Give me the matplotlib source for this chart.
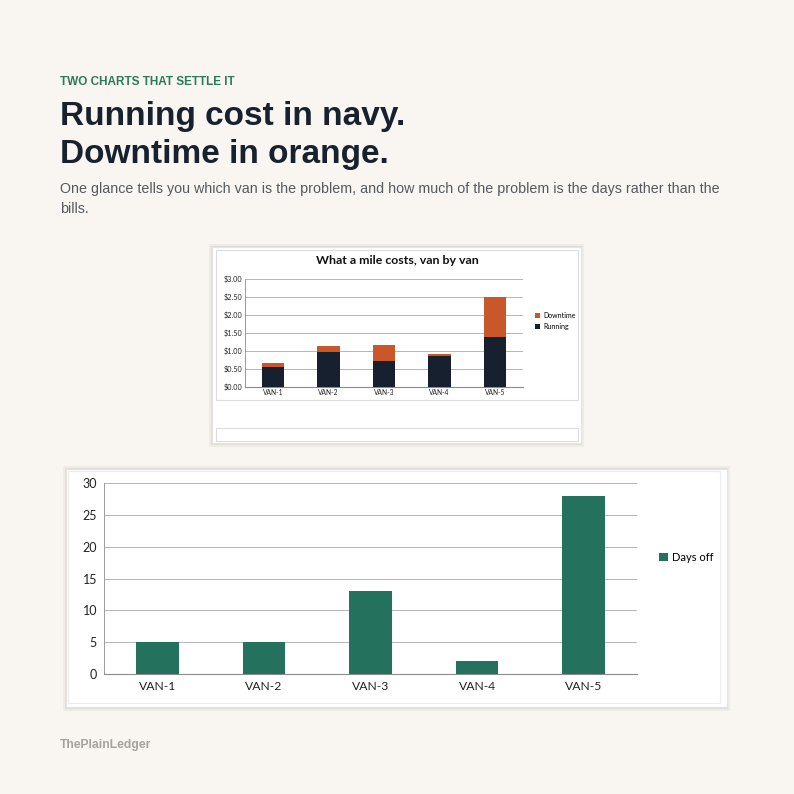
import matplotlib

matplotlib.use("Agg")
import matplotlib.pyplot as plt
from matplotlib.patches import Rectangle

vans = ["VAN-1", "VAN-2", "VAN-3", "VAN-4", "VAN-5"]
running = [0.55, 0.98, 0.73, 0.87, 1.39]
downtime = [0.12, 0.17, 0.43, 0.05, 1.11]
days_off = [5, 5, 13, 2, 28]
cost_ticks = [0.0, 0.5, 1.0, 1.5, 2.0, 2.5, 3.0]
day_ticks = [0, 5, 10, 15, 20, 25, 30]

W = H = 794
BG = "#f9f6f1"
NAVY = "#16202e"
ORANGE = "#c9572a"
GREEN = "#24725e"
GRID = "#b5b5b5"


def fx(px):
    return px / W


def fy(py):
    return 1 - py / H


def rect(x0, y0, x1, y1):
    return [fx(x0), fy(y1), fx(x1) - fx(x0), fy(y0) - fy(y1)]


def card(fig, x0, y0, x1, y1):
    for off, a in [(4, 0.04), (2, 0.06)]:
        fig.patches.append(Rectangle((fx(x0 - off + 1), fy(y1 + off)), fx(x1 - x0 + 2 * off - 2), fy(0) - fy(y1 - y0 + 2 * off - 1),
                                     transform=fig.transFigure, color="black", alpha=a, lw=0, zorder=0))
    fig.patches.append(Rectangle((fx(x0), fy(y1)), fx(x1 - x0), fy(0) - fy(y1 - y0),
                                 transform=fig.transFigure, facecolor="white", edgecolor="#e6e3de", lw=0.8, zorder=1))


def box(fig, x0, y0, x1, y1, color="#dddddd"):
    fig.patches.append(Rectangle((fx(x0), fy(y1)), fx(x1 - x0), fy(0) - fy(y1 - y0),
                                 transform=fig.transFigure, facecolor="none", edgecolor=color, lw=0.8, zorder=2))


def style_axes(ax, ticks, labels, xsize, ysize):
    ax.set_zorder(5)
    ax.set_facecolor("none")
    for s in ["top", "right"]:
        ax.spines[s].set_visible(False)
    ax.spines["left"].set_color("#9a9a9a")
    ax.spines["bottom"].set_color("#8a8a8a")
    ax.spines["left"].set_linewidth(0.7)
    ax.spines["bottom"].set_linewidth(0.8)
    ax.set_yticks(ticks)
    ax.set_yticklabels(labels)
    ax.set_ylim(ticks[0], ticks[-1])
    ax.set_xlim(-0.5, len(vans) - 0.5)
    ax.grid(axis="y", color=GRID, lw=0.7)
    ax.set_axisbelow(True)
    ax.tick_params(axis="both", length=0, colors="#222222", pad=2)
    ax.tick_params(axis="x", labelsize=xsize)
    ax.tick_params(axis="y", labelsize=ysize)
    for lab in ax.get_xticklabels() + ax.get_yticklabels():
        lab.set_family("Lato")


def main() -> None:
    fig = plt.figure(figsize=(W / 100, H / 100), dpi=100)
    fig.patch.set_facecolor(BG)

    fig.text(fx(60), fy(82), "TWO CHARTS THAT SETTLE IT", family="Liberation Sans", weight="bold",
             fontsize=8.5, color="#2a7a5a", va="center")
    fig.text(fx(60), fy(117), "Running cost in navy.", family="Liberation Sans", weight="bold",
             fontsize=24, color="#18222e", va="center")
    fig.text(fx(60), fy(154), "Downtime in orange.", family="Liberation Sans", weight="bold",
             fontsize=24, color="#18222e", va="center")
    fig.text(fx(60), fy(189), "One glance tells you which van is the problem, and how much of the problem is the days rather than the",
             family="Liberation Sans", fontsize=10.3, color="#55595e", va="center")
    fig.text(fx(60), fy(209), "bills.", family="Liberation Sans", fontsize=10.3, color="#55595e", va="center")
    fig.text(fx(60), fy(745), "ThePlainLedger", family="Liberation Sans", weight="bold",
             fontsize=8.7, color="#a5a29c", va="center")

    # top card: stacked cost per mile
    card(fig, 212, 247, 581, 443)
    box(fig, 216, 250, 578, 400)
    box(fig, 216, 428, 578, 441)
    ax1 = fig.add_axes(rect(245, 279, 523, 387))
    x = range(len(vans))
    ax1.bar(x, running, width=0.4, color=NAVY, label="Running", zorder=3)
    ax1.bar(x, downtime, width=0.4, bottom=running, color=ORANGE, label="Downtime", zorder=3)
    ax1.set_xticks(list(x))
    ax1.set_xticklabels(vans)
    style_axes(ax1, cost_ticks, [f"${t:.2f}" for t in cost_ticks], 4.8, 5.2)
    ax1.tick_params(axis="x", pad=1.5)
    h, l = ax1.get_legend_handles_labels()
    ax1.legend(h[::-1], l[::-1], loc="center left", bbox_to_anchor=(1.02, 0.61), frameon=False,
               prop={"family": "Lato", "size": 5.0}, handlelength=0.7, handleheight=0.7,
               handletextpad=0.5, labelspacing=0.6)
    fig.text(fx(397), fy(261), "What a mile costs, van by van", family="Lato", weight="bold",
             fontsize=8.9, color="#111111", ha="center", va="center", zorder=6)

    # bottom card: days off
    card(fig, 66, 469, 727, 707)
    box(fig, 68, 471, 720, 703, color="#ececec")
    ax2 = fig.add_axes(rect(104, 483, 637, 674))
    ax2.bar(x, days_off, width=0.4, color=GREEN, label="Days off", zorder=3)
    ax2.set_xticks(list(x))
    ax2.set_xticklabels(vans)
    style_axes(ax2, day_ticks, [str(t) for t in day_ticks], 8.7, 9)
    ax2.tick_params(axis="y", pad=5)
    ax2.tick_params(axis="x", pad=5)
    ax2.legend(loc="center left", bbox_to_anchor=(1.022, 0.61), frameon=False,
               prop={"family": "Lato", "size": 8}, handlelength=0.8, handleheight=0.8, handletextpad=0.4)

    fig.savefig("out.png", dpi=100, facecolor=BG)


if __name__ == "__main__":
    main()
